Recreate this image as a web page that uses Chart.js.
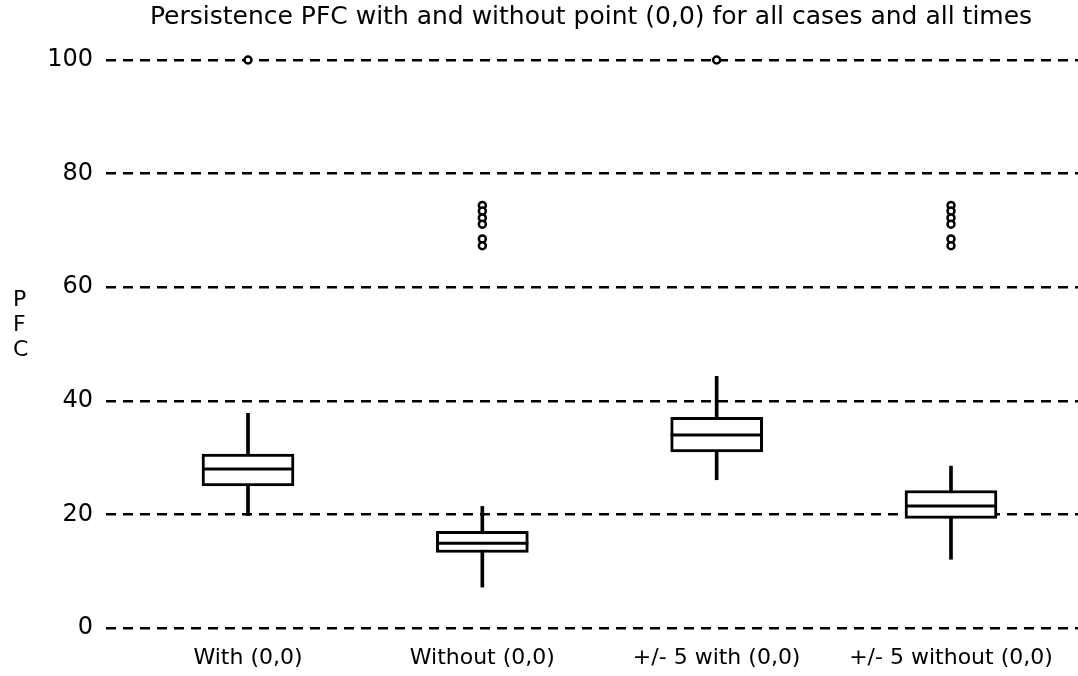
<!DOCTYPE html>
<html>
<head>
<meta charset="utf-8">
<script src="https://cdn.jsdelivr.net/npm/chart.js@4.4.1/dist/chart.umd.min.js"></script>
<style>
  html, body { margin: 0; padding: 0; background: #fff; overflow: hidden; }
  #boxChart { display: block; }
</style>
</head>
<body>
<canvas id="boxChart" width="1078" height="676"></canvas>
<script>
// data
const categories = ["With (0,0)", "Without (0,0)", "+/- 5 with (0,0)", "+/- 5 without (0,0)"];
const whiskerLow = [19.8, 7.2, 26.1, 12.1];
const quartile1 = [25.0, 13.3, 31.0, 19.3];
const medians = [28.0, 14.9, 34.0, 21.5];
const quartile3 = [30.6, 17.0, 37.1, 24.2];
const whiskerHigh = [37.8, 21.4, 44.3, 28.5];
const outliers = [
  [100],
  [74.4, 73.4, 72.2, 71.1, 68.5, 67.3],
  [100],
  [74.4, 73.4, 72.2, 71.1, 68.5, 67.3]
];
const chartTitle = "Persistence PFC with and without point (0,0) for all cases and all times";
const yTitle = ["P", "F", "C"];

const FONT = "'DejaVu Sans', sans-serif";

const outlierPoints = [];
outliers.forEach((vals, i) => vals.forEach((v) => outlierPoints.push({ x: i, y: v })));

// medians, title and the stacked y title
const boxExtras = {
  id: "boxExtras",
  afterDatasetsDraw(chart) {
    const meta = chart.getDatasetMeta(1);
    const yScale = chart.scales.y;
    const ctx = chart.ctx;
    ctx.save();
    ctx.strokeStyle = "#000";
    ctx.lineWidth = 3;
    meta.data.forEach((bar, i) => {
      const py = yScale.getPixelForValue(medians[i]);
      ctx.beginPath();
      ctx.moveTo(bar.x - bar.width / 2, py);
      ctx.lineTo(bar.x + bar.width / 2, py);
      ctx.stroke();
    });
    ctx.restore();
  },
  afterDraw(chart) {
    const ctx = chart.ctx;
    ctx.save();
    ctx.fillStyle = "#000";
    ctx.textBaseline = "middle";
    ctx.textAlign = "center";
    ctx.font = "25px " + FONT;
    ctx.fillText(chartTitle, 591, 17);
    ctx.textAlign = "left";
    ctx.font = "22px " + FONT;
    yTitle.forEach((ch, i) => ctx.fillText(ch, 13, 300 + i * 25));
    ctx.restore();
  }
};

const boxChart = new Chart(document.getElementById("boxChart"), {
  type: "bar",
  data: {
    datasets: [
      {
        label: "whiskers",
        data: categories.map((c, i) => ({ x: i, y: [whiskerLow[i], whiskerHigh[i]] })),
        backgroundColor: "#000",
        borderWidth: 0,
        barThickness: 3,
        grouped: false,
        order: 3
      },
      {
        label: "boxes",
        data: categories.map((c, i) => ({ x: i, y: [quartile1[i], quartile3[i]] })),
        backgroundColor: "#fff",
        borderColor: "#000",
        borderWidth: 3,
        borderSkipped: false,
        barThickness: 92,
        grouped: false,
        order: 2
      },
      {
        type: "scatter",
        label: "outliers",
        data: outlierPoints,
        pointRadius: 3.5,
        pointBorderWidth: 2.5,
        pointBackgroundColor: "#fff",
        pointBorderColor: "#000",
        clip: false,
        order: 1
      }
    ]
  },
  options: {
    responsive: false,
    animation: false,
    layout: { autoPadding: false, padding: { top: 60, left: 0, right: 0, bottom: 0 } },
    plugins: {
      legend: { display: false },
      tooltip: { enabled: false },
      title: { display: false }
    },
    scales: {
      x: {
        type: "linear",
        offset: false,
        min: -0.606,
        max: 3.542,
        afterFit: (scale) => {
          scale.height = 48;
          scale.paddingLeft = 0;
          scale.paddingRight = 0;
        },
        grid: { display: false },
        border: { display: false },
        ticks: {
          stepSize: 1,
          includeBounds: false,
          autoSkip: false,
          maxRotation: 0,
          color: "#000",
          padding: 9,
          font: { family: FONT, size: 22 },
          callback: (v) => categories[v] ?? ""
        }
      },
      y: {
        min: 0,
        max: 100,
        afterFit: (scale) => { scale.width = 106; },
        grid: { color: "#000", lineWidth: 2.5, drawTicks: false },
        border: { display: false, dash: [10, 7] },
        ticks: {
          stepSize: 20,
          color: "#000",
          padding: 13,
          font: { family: FONT, size: 24 }
        }
      }
    }
  },
  plugins: [boxExtras]
});
</script>
</body>
</html>
